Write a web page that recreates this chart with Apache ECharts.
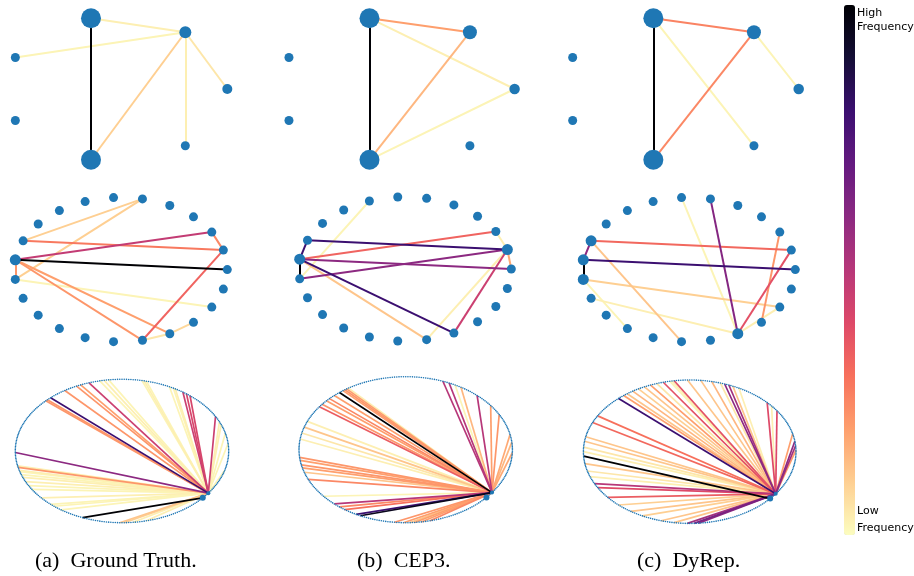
<!DOCTYPE html>
<html>
<head>
<meta charset="utf-8">
<script src="https://cdn.jsdelivr.net/npm/echarts@6/dist/echarts.min.js"></script>
<style>
html,body{margin:0;padding:0;background:#fff;}
#chart{width:914px;height:576px;}
</style>
</head>
<body>
<div id="chart"></div>
<script>
// ---------------- DATA ----------------
const captions = ['(a)  Ground Truth.', '(b)  CEP3.', '(c)  DyRep.'];
const legendHigh = ['High', 'Frequency'];
const legendLow = ['Low', 'Frequency'];

// Row 1: 7-node graphs (node 0 at right, counter-clockwise)
const smallN = 7;
const smallSizes = [
  [10, 12, 20, 9, 9, 20, 9],
  [10.5, 14, 20, 9, 9, 20, 9],
  [10.5, 14, 20, 9, 9, 20, 9]
];
// [source, target, frequency 0..1]
const smallEdgesA = [[2,5,1.0],[2,1,0.03],[1,3,0.02],[1,5,0.1],[1,6,0.03],[1,0,0.05]];
const smallEdgesB = [[2,5,1.0],[2,1,0.2],[2,0,0.03],[1,5,0.15],[5,0,0.02]];
const smallEdgesC = [[2,5,1.0],[2,1,0.26],[2,6,0.02],[1,5,0.25],[1,0,0.02]];

// Row 2: 23-node ring graphs
const midN = 23;
const midBigA = [11];
const midBigB = [11, 1];
const midBigC = [10, 11, 12, 19];
const midEdgesA = [[5,10,0.1],[5,12,0.1],[10,1,0.28],[11,2,0.47],[11,0,1.0],[11,12,0.22],
  [11,19,0.2],[11,18,0.22],[12,21,0.02],[2,1,0.25],[1,18,0.33],[18,19,0.05],[19,20,0.08]];
const midEdgesB = [[7,12,0.02],[10,1,0.8],[10,11,0.8],[11,2,0.33],[11,0,0.6],[12,1,0.6],
  [11,12,1.0],[11,19,0.8],[11,18,0.12],[2,1,0.03],[1,0,0.18],[1,18,0.03],[1,19,0.45]];
const midEdgesC = [[10,1,0.32],[10,11,0.6],[10,17,0.12],[11,0,0.8],[11,12,1.0],[12,21,0.1],
  [12,15,0.02],[13,19,0.03],[6,19,0.02],[5,19,0.62],[1,19,0.38],[2,20,0.22],[19,21,0.03]];

// Row 3: 300-node ring graphs with a hub
const largeN = 300;
const largeHub = 270;
const largeSecond = 266;
const largeEdgesA = [[270,90,0.45],[270,94,0.2],[270,96,0.22],[270,102,0.22],[270,110,0.8],[270,112,0.22],[270,113,0.22],
  [270,85,0.02],[270,83,0.03],[270,81,0.02],[270,64,0.02],[270,65,0.03],[270,66,0.02],[270,53,0.02],[270,51,0.02],[270,50,0.03],[270,46,0.45],
  [270,44,0.42],[270,42,0.42],[270,24,0.45],[270,20,0.03],[270,18,0.03],[270,12,0.02],[270,5,0.02],[270,287,0.02],[270,151,0.6],
  [270,161,0.22],[270,160,0.03],[270,163,0.03],[270,164,0.02],[270,166,0.02],[270,168,0.03],[270,171,0.03],[270,174,0.02],[270,177,0.02],[270,184,0.03],
  [270,190,0.02],[270,192,0.02],[270,196,0.02],[270,224,0.12],[270,226,0.1],[270,230,0.03],[270,236,0.03],[266,207,1.0]];
const largeEdgesB = [[270,58,0.5],[270,55,0.5],[270,49,0.15],[270,52,0.02],[270,40,0.5],[270,31,0.2],
  [270,24,0.22],[270,10,0.18],[270,5,0.15],[270,298,0.18],[270,107,1.0],[270,105,0.2],[270,104,0.22],[270,103,0.2],[270,102,0.03],
  [270,110,0.2],[270,113,0.25],[270,120,0.35],[270,115,0.2],[270,118,0.22],[270,131,0.03],[270,135,0.12],[270,139,0.05],[270,143,0.03],
  [270,155,0.22],[270,157,0.2],[270,160,0.22],[270,162,0.2],[270,165,0.12],[270,170,0.25],[270,183,0.02],[270,190,0.5],
  [270,193,0.25],[270,196,0.3],[270,202,0.8],[270,204,0.95],[270,220,0.22],[270,224,0.2],[270,227,0.12],[270,229,0.2],[270,232,0.2],[270,236,0.25]];
const largeEdgesC = [[270,110,0.8],[270,107,0.2],[270,105,0.12],[270,102,0.15],[270,99,0.1],[270,96,0.12],[270,93,0.2],
  [270,90,0.05],[270,87,0.38],[270,84,0.02],[270,83,0.03],[270,82,0.38],[270,76,0.12],[270,70,0.12],[270,65,0.15],
  [270,61,0.05],[270,59,0.6],[270,57,0.55],[270,55,0.12],[270,52,0.03],[270,36,0.4],[270,33,0.03],[270,29,0.4],
  [270,12,0.2],[270,7,0.6],[270,4,0.55],[270,1,0.2],[270,125,0.3],[270,130,0.32],[270,140,0.12],[270,143,0.12],
  [270,147,0.05],[270,150,0.03],[266,153,1.0],[270,158,0.12],[270,163,0.05],[270,167,0.03],[270,172,0.5],
  [270,175,0.4],[270,183,0.35],[270,190,0.1],[270,197,0.12],[270,203,0.1],[270,212,0.12],[270,218,0.12],
  [270,224,0.55],[270,227,0.65],[270,229,0.6]];

// magma colormap, low frequency -> high frequency
const magmaR = ['#fcfdbf','#fecf92','#fe9f6d','#f7705c','#de4968','#b73779','#8c2981','#641a80','#3b0f70','#140e36','#000004'];

// ---------------- LAYOUT ----------------
const panels = [
  {cx:115.8, cy:89, rx:111.5, ry:72.6, n:smallN, sizes:smallSizes[0], edges:smallEdgesA, lw:2},
  {cx:395.9, cy:89, rx:118.7, ry:72.6, n:smallN, sizes:smallSizes[1], edges:smallEdgesB, lw:2},
  {cx:679.8, cy:89, rx:118.9, ry:72.6, n:smallN, sizes:smallSizes[2], edges:smallEdgesC, lw:2},
  {cx:120.8, cy:269.6, rx:106.5, ry:72.2, n:midN, big:midBigA, edges:midEdgesA, lw:2},
  {cx:405.0, cy:269.0, rx:106.3, ry:72.2, n:midN, big:midBigB, edges:midEdgesB, lw:2},
  {cx:688.8, cy:269.6, rx:106.5, ry:72.2, n:midN, big:midBigC, edges:midEdgesC, lw:2},
  {cx:122.0, cy:451.0, rx:106.7, ry:71.7, n:largeN, large:true, edges:largeEdgesA, lw:1.7},
  {cx:405.7, cy:449.7, rx:106.7, ry:73.0, n:largeN, large:true, edges:largeEdgesB, lw:1.7},
  {cx:689.7, cy:451.7, rx:106.3, ry:71.7, n:largeN, large:true, edges:largeEdgesC, lw:1.7}
];

function ringPos(i, n) {
  const a = 2 * Math.PI * i / n;
  return [Math.cos(a), Math.sin(a)];
}

const grids = [], xAxes = [], yAxes = [], series = [], lineSeriesIdx = [];
panels.forEach((p, k) => {
  grids.push({left: p.cx - p.rx, top: p.cy - p.ry, width: 2 * p.rx, height: 2 * p.ry});
  xAxes.push({type:'value', gridIndex:k, min:-1, max:1, show:false});
  yAxes.push({type:'value', gridIndex:k, min:-1, max:1, show:false});
  const nodes = [];
  for (let i = 0; i < p.n; i++) {
    let s;
    if (p.sizes) s = p.sizes[i];
    else if (p.large) s = (i === largeHub) ? 4 : (i === largeSecond ? 6 : 1.6);
    else s = (p.big && p.big.indexOf(i) >= 0) ? 11 : 9;
    const xy = ringPos(i, p.n);
    nodes.push([xy[0], xy[1], s]);
  }
  const edges = p.edges.slice().sort((a, b) => a[2] - b[2]).map(e => ({
    coords: [ringPos(e[0], p.n), ringPos(e[1], p.n)],
    value: e[2]
  }));
  lineSeriesIdx.push(series.length);
  series.push({
    type:'lines', coordinateSystem:'cartesian2d', xAxisIndex:k, yAxisIndex:k,
    data: edges, silent:true, z:2,
    lineStyle:{width:p.lw, opacity:1}
  });
  series.push({
    type:'scatter', xAxisIndex:k, yAxisIndex:k, data:nodes, silent:true, z:3,
    symbolSize: d => d[2],
    itemStyle:{color:'#1f77b4', opacity:1}
  });
});

const graphics = [];
const capX = [35, 357, 637];
captions.forEach((c, i) => graphics.push({
  type:'text', left: capX[i], top: 550,
  style:{text:c, font:'22px "Liberation Serif", serif', fill:'#000'}
}));
graphics.push({type:'text', left:857, top:6, style:{text:legendHigh.join('\n'), font:'11px "DejaVu Sans", sans-serif', fill:'#000', lineHeight:14}});
graphics.push({type:'text', left:857, top:503, style:{text:legendLow.join('\n'), font:'11px "DejaVu Sans", sans-serif', fill:'#000', lineHeight:17}});

const chart = echarts.init(document.getElementById('chart'), null, {renderer:'canvas'});
chart.setOption({
  animation:false,
  backgroundColor:'#fff',
  grid:grids, xAxis:xAxes, yAxis:yAxes,
  visualMap:{
    type:'continuous', min:0, max:1, dimension:0, seriesIndex:lineSeriesIdx,
    inRange:{color:magmaR}, left:839, top:0, itemWidth:11, itemHeight:530,
    calculable:false, text:null, hoverLink:false, orient:'vertical', padding:5
  },
  series:series,
  graphic:graphics
});
</script>
</body>
</html>
